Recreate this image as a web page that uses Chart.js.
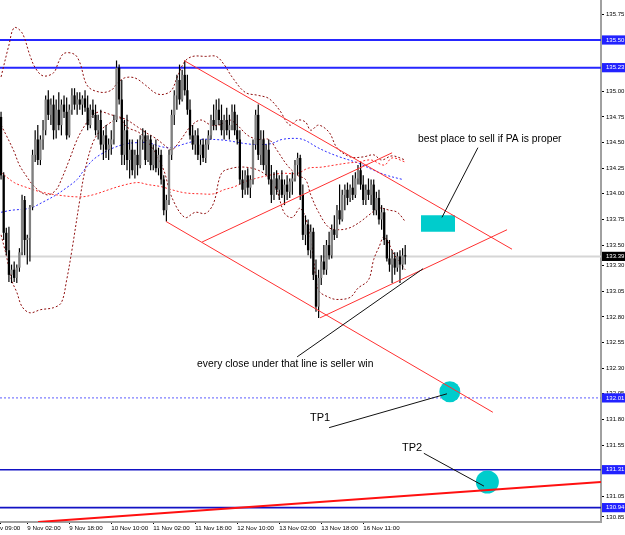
<!DOCTYPE html>
<html>
<head>
<meta charset="utf-8">
<style>
  html, body { margin: 0; padding: 0; background: #fff; }
  #wrap { width: 625px; height: 535px; }
</style>
<script src="https://cdn.jsdelivr.net/npm/chart.js@4.4.0/dist/chart.umd.min.js"></script>
</head>
<body>
<div id="wrap"><canvas id="myChart" width="625" height="535"></canvas></div>
<script>
// USDJPY-like H1 chart

// candles (bar index = position in the arrays)
const opens = [
  134.75,134.18,133.62,133.45,133.21,133.26,133.18,133.28,133.43,133.94,
  133.55,133.57,133.87,134.38,134.53,134.33,134.53,134.62,134.92,134.77,
  134.87,134.62,134.82,134.67,134.87,134.80,134.57,134.82,134.96,134.87,
  134.92,134.87,134.93,134.84,134.67,134.82,134.77,134.62,134.72,134.48,
  134.57,134.43,134.48,134.53,134.72,135.23,134.92,134.38,134.62,134.33,
  134.43,134.23,134.38,134.28,134.53,134.57,134.33,134.53,134.28,134.43,
  134.25,134.38,134.14,133.84,133.94,134.38,134.77,134.96,135.11,134.92,
  135.16,135.01,134.82,134.57,134.48,134.57,134.38,134.48,134.35,134.48,
  134.57,134.72,134.67,134.82,134.72,134.62,134.72,134.62,134.67,134.80,
  134.62,134.53,134.14,134.04,134.18,134.06,134.14,134.48,134.77,134.38,
  134.53,134.28,134.43,134.14,133.99,134.15,134.04,134.14,133.99,134.09,
  134.02,134.12,134.15,134.28,134.35,133.99,133.60,133.70,133.45,133.63,
  133.21,132.90,133.18,133.34,133.26,133.50,133.40,133.65,133.60,133.84,
  133.75,133.99,134.04,133.96,134.06,133.99,134.15,134.23,134.09,133.94,
  134.04,133.99,134.09,133.84,133.96,133.75,133.82,133.55,133.37,133.31,
  133.37,133.28,133.39,133.31,133.40
];
const highs = [
  134.80,134.21,133.67,133.68,133.31,133.34,133.31,133.47,133.99,133.98,
  133.60,133.89,134.43,134.62,134.67,134.57,134.72,134.96,135.01,134.93,
  134.96,134.92,134.99,134.92,134.96,134.94,134.87,135.03,135.03,134.99,
  134.99,134.96,135.01,134.96,134.87,134.92,134.87,134.77,134.82,134.62,
  134.67,134.54,134.62,134.77,135.30,135.26,135.11,134.72,134.77,134.53,
  134.53,134.43,134.53,134.57,134.64,134.62,134.57,134.57,134.48,134.53,
  134.45,134.43,134.18,133.99,134.43,134.82,135.01,135.16,135.26,135.21,
  135.30,135.16,134.92,134.67,134.62,134.64,134.53,134.54,134.53,134.62,
  134.77,134.87,134.92,134.93,134.87,134.77,134.84,134.77,134.87,134.87,
  134.77,134.62,134.23,134.23,134.25,134.18,134.53,134.82,134.87,134.62,
  134.62,134.48,134.53,134.28,134.21,134.23,134.18,134.23,134.14,134.18,
  134.15,134.21,134.33,134.40,134.38,134.09,133.79,133.75,133.70,133.67,
  133.36,133.26,133.40,133.50,133.55,133.63,133.70,133.79,133.89,134.09,
  134.04,134.09,134.11,134.09,134.18,134.21,134.28,134.31,134.18,134.09,
  134.15,134.14,134.14,134.02,134.04,133.89,133.86,133.60,133.55,133.45,
  133.43,133.43,133.45,133.47,133.50
];
const lows = [
  134.14,133.55,133.40,133.14,133.13,133.14,133.13,133.24,133.40,133.40,
  133.31,133.34,133.84,134.31,134.28,134.28,134.43,134.57,134.72,134.67,
  134.53,134.54,134.62,134.57,134.74,134.53,134.55,134.77,134.82,134.77,
  134.82,134.77,134.80,134.62,134.64,134.74,134.57,134.53,134.43,134.33,
  134.35,134.33,134.38,134.48,134.70,134.87,134.28,134.28,134.23,134.15,
  134.18,134.15,134.18,134.25,134.43,134.28,134.31,134.23,134.23,134.21,
  134.18,134.09,133.79,133.73,133.89,134.33,134.67,134.82,134.87,134.90,
  134.96,134.77,134.53,134.43,134.38,134.33,134.28,134.31,134.30,134.43,
  134.53,134.62,134.62,134.67,134.57,134.53,134.57,134.53,134.62,134.57,
  134.48,134.09,133.96,133.99,133.99,133.96,134.09,134.43,134.33,134.28,
  134.23,134.18,134.09,133.91,133.94,133.99,133.94,133.96,133.89,133.94,
  133.96,133.99,134.12,134.18,133.94,133.55,133.50,133.40,133.37,133.16,
  132.85,132.79,133.11,133.21,133.21,133.36,133.37,133.55,133.57,133.70,
  133.73,133.84,133.89,133.92,133.94,133.96,134.09,134.04,133.89,133.89,
  133.94,133.89,133.79,133.79,133.70,133.65,133.50,133.34,133.24,133.13,
  133.21,133.24,133.13,133.26,133.31
];
const closes = [
  134.18,133.62,133.45,133.21,133.26,133.18,133.28,133.43,133.94,133.55,
  133.57,133.87,134.38,134.53,134.33,134.53,134.62,134.92,134.77,134.87,
  134.62,134.82,134.67,134.87,134.80,134.57,134.82,134.96,134.87,134.92,
  134.87,134.93,134.84,134.67,134.82,134.77,134.62,134.72,134.48,134.57,
  134.43,134.48,134.53,134.72,135.23,134.92,134.38,134.62,134.33,134.43,
  134.23,134.38,134.28,134.53,134.57,134.33,134.53,134.28,134.43,134.25,
  134.38,134.14,133.84,133.94,134.38,134.77,134.96,135.11,134.92,135.16,
  135.01,134.82,134.57,134.48,134.57,134.38,134.48,134.35,134.48,134.57,
  134.72,134.67,134.82,134.72,134.62,134.72,134.62,134.67,134.80,134.62,
  134.53,134.14,134.04,134.18,134.06,134.14,134.48,134.77,134.38,134.53,
  134.28,134.43,134.14,133.99,134.15,134.04,134.14,133.99,134.09,134.02,
  134.12,134.15,134.28,134.35,133.99,133.60,133.70,133.45,133.63,133.21,
  132.90,133.18,133.34,133.26,133.50,133.40,133.65,133.60,133.84,133.75,
  133.99,134.04,133.96,134.06,133.99,134.15,134.23,134.09,133.94,134.04,
  133.99,134.09,133.84,133.96,133.75,133.82,133.55,133.37,133.31,133.37,
  133.28,133.39,133.31,133.40,133.39
];

// bollinger bands (maroon dotted), sampled at bar indexes
const upperBars = [0,3,5,8,11,13,16,20,22,24,28,30,33,38,42,44,47,51,55,59,62,65,67,70,73,78,82,85,88,93,98,102,106,110,113,116,118,121,125,128,133,138,142,145,149,154];
const upperBand = [135.14,135.45,135.62,135.57,135.35,135.23,135.15,135.18,135.29,135.37,135.36,135.28,135.05,134.99,135.01,135.07,135.13,135.13,135.06,134.98,134.97,135.01,135.13,135.29,135.34,135.34,135.34,135.26,135.14,134.99,134.96,134.93,134.82,134.67,134.72,134.70,134.62,134.67,134.60,134.45,134.36,134.36,134.38,134.33,134.37,134.33];
const midBars = [0,2,5,7,10,12,15,18,21,23,26,29,32,35,38,42,45,48,51,55,59,62,65,68,72,76,80,83,87,90,94,98,102,105,109,113,116,118,121,125,129,133,137,140,144,148,151,154];
const midBand = [134.67,134.57,134.41,134.28,134.16,134.09,134.02,133.99,134.04,134.14,134.33,134.53,134.67,134.77,134.80,134.77,134.75,134.72,134.67,134.60,134.54,134.48,134.43,134.51,134.65,134.72,134.67,134.67,134.72,134.67,134.57,134.53,134.53,134.43,134.28,134.18,134.14,133.99,133.82,133.67,133.65,133.67,133.73,133.79,133.86,133.84,133.82,133.73];
const lowerBars = [0,2,4,6,8,11,15,20,23,25,27,30,32,35,38,42,45,48,53,58,62,65,70,74,78,81,84,88,93,98,102,105,108,111,114,117,119,121,125,128,133,136,140,142,144,146,150,154];
const lowerBand = [133.60,133.40,133.16,133.04,132.90,132.84,132.87,132.89,132.94,133.16,133.45,133.94,134.23,134.50,134.62,134.70,134.74,134.65,134.59,134.43,134.23,133.97,133.77,133.82,133.81,133.91,134.20,134.25,134.26,134.23,134.16,134.04,133.81,133.77,133.86,133.68,133.38,133.06,132.99,132.97,132.99,133.08,133.16,133.36,133.48,133.58,133.40,133.26];

// moving averages (red dotted, blue dotted)
const maRedBars = [0,5,10,15,21,30,35,41,46,52,56,61,65,70,76,81,85,89,93,97,102,107,113,117,122,127,132,136,141,146,149,154];
const maRed = [134.21,134.11,134.06,134.02,133.99,133.97,133.99,134.04,134.08,134.11,134.09,134.07,134.04,134.01,134.00,134.00,134.04,134.07,134.12,134.15,134.18,134.20,134.20,134.25,134.26,134.28,134.30,134.31,134.33,134.28,134.35,134.31];
const maBlueBars = [0,4,11,16,21,25,29,31,35,39,43,48,53,56,61,65,69,73,76,81,86,93,98,103,107,113,116,120,124,129,136,142,147,153];
const maBlue = [133.82,133.84,133.86,133.92,133.99,134.06,134.14,134.21,134.33,134.40,134.45,134.49,134.50,134.50,134.46,134.45,134.48,134.51,134.53,134.53,134.52,134.49,134.48,134.49,134.53,134.54,134.52,134.46,134.41,134.36,134.30,134.23,134.18,134.14];

// horizontal levels
const upperLevels = [135.50, 135.23];
const lowerLevels = [131.31, 130.94];
const tp1Level = 132.01;
const bidPrice = 133.39;

// trend lines [bar1, price1, bar2, price2]
const channelLines = [
  [69.7, 135.30, 194.7, 133.46],
  [62.9, 133.73, 187.4, 131.87],
  [76.6, 133.53, 149.0, 134.40],
  [121.5, 132.79, 192.8, 133.65]
];
const baseLine = [14.1, 130.80, 228.6, 131.19];
const pointerLines = [
  [181.7, 134.45, 168.0, 133.77],
  [112.8, 132.41, 160.8, 133.27],
  [125.0, 131.72, 169.9, 132.05],
  [161.1, 131.47, 184.0, 131.15]
];

// sell zone and targets
const zoneBars = [160, 173];
const zonePrices = [133.63, 133.79];
const targetBars = [171, 185.3];
const targetPrices = [132.07, 131.19];

// notes
const noteTexts = ['best place to sell if PA is proper', 'every close under that line is seller win', 'TP1', 'TP2'];
const noteBars = [158.9, 74.7, 117.7, 152.8];
const notePrices = [134.535, 132.34, 131.81, 131.52];

// axes
const timeTicks = [-0.4, 10, 26, 42, 58, 74, 90, 106, 122, 138];
const timeLabels = ['v 09:00', '9 Nov 02:00', '9 Nov 18:00', '10 Nov 10:00', '11 Nov 02:00', '11 Nov 18:00', '12 Nov 10:00', '13 Nov 02:00', '13 Nov 18:00', '16 Nov 11:00'];
const priceTicks = [135.75,135.50,135.25,135.00,134.75,134.50,134.25,134.00,133.75,133.50,133.30,133.05,132.80,132.55,132.30,132.05,131.80,131.55,131.30,131.05,130.85];
const boxPrices = [135.50, 135.23, 133.39, 132.01, 131.31, 130.94];

const xMin = -0.4, xMax = 228.6;
const yMin = 130.80, yMax = 135.89;

Chart.defaults.font.family = '"Liberation Sans", Arial, sans-serif';

const pts = (xs, ys) => xs.map((x, i) => ({ x: x, y: ys[i] }));
const idx = opens.map((o, i) => i);

function hline(price, color, width, dash) {
  return {
    type: 'line', data: [{ x: xMin, y: price }, { x: xMax, y: price }],
    borderColor: color, borderWidth: width, borderDash: dash || [],
    pointRadius: 0, order: 100
  };
}
function dotted(xs, ys, color) {
  return {
    type: 'line', data: pts(xs, ys), borderColor: color, borderWidth: 1,
    borderDash: [2, 2], pointRadius: 0, tension: 0.35, order: 90
  };
}
function seg(l, color, width, order) {
  return {
    type: 'line', data: [{ x: l[0], y: l[1] }, { x: l[2], y: l[3] }],
    borderColor: color, borderWidth: width, pointRadius: 0, order: order
  };
}

const datasets = [
  hline(upperLevels[0], '#2626ff', 2),
  hline(upperLevels[1], '#2626ff', 2),
  hline(lowerLevels[0], '#1212c4', 1.6),
  hline(lowerLevels[1], '#1212c4', 1.6),
  hline(tp1Level, '#5c5cff', 1, [2, 2]),
  hline(bidPrice, '#d6d6d6', 2),
  dotted(upperBars, upperBand, '#8e0c0c'),
  dotted(midBars, midBand, '#8e0c0c'),
  dotted(lowerBars, lowerBand, '#8e0c0c'),
  dotted(maRedBars, maRed, '#ff2a2a'),
  dotted(maBlueBars, maBlue, '#2a2aff'),
  {
    type: 'bar', data: idx.map(i => ({ x: i, y: [lows[i], highs[i]] })),
    backgroundColor: '#000', barThickness: 1.2, grouped: false, inflateAmount: 0, order: 80
  },
  {
    type: 'bar', data: idx.map(i => ({ x: i, y: [opens[i], closes[i]] })),
    backgroundColor: c => closes[c.dataIndex] >= opens[c.dataIndex] ? '#808080' : '#000',
    barThickness: 2.3, minBarLength: 1, grouped: false, inflateAmount: 0, order: 79
  },
  {
    type: 'line', data: pts(zoneBars, [zonePrices[1], zonePrices[1]]),
    borderWidth: 0, pointRadius: 0, order: 70
  },
  {
    type: 'line', data: pts(zoneBars, [zonePrices[0], zonePrices[0]]),
    borderWidth: 0, pointRadius: 0, fill: '-1', backgroundColor: '#00cccc', order: 70
  },
  {
    type: 'scatter', data: [{ x: targetBars[0], y: targetPrices[0] }],
    pointRadius: 10.5, pointBackgroundColor: '#00cccc', pointBorderWidth: 0, order: 70
  },
  {
    type: 'scatter', data: [{ x: targetBars[1], y: targetPrices[1] }],
    pointRadius: 11.5, pointBackgroundColor: '#00cccc', pointBorderWidth: 0, order: 70
  },
  seg(baseLine, '#ff1010', 2, 65)
].concat(
  channelLines.map(l => seg(l, '#ff3030', 1, 60)),
  pointerLines.map(l => seg(l, '#111', 1, 50))
);

const notesPlugin = {
  id: 'notes',
  afterDatasetsDraw(chart) {
    const { ctx, scales } = chart;
    ctx.save();
    ctx.fillStyle = '#000';
    ctx.textBaseline = 'middle';
    noteTexts.forEach((t, i) => {
      ctx.font = (t.length < 4 ? '11px' : '10.3px') + ' "Liberation Sans", Arial, sans-serif';
      ctx.fillText(t, scales.x.getPixelForValue(noteBars[i]), scales.y.getPixelForValue(notePrices[i]));
    });
    ctx.restore();
  }
};

const isBox = c => c.index >= priceTicks.length;

new Chart(document.getElementById('myChart'), {
  type: 'bar',
  data: { datasets: datasets },
  options: {
    responsive: false,
    animation: false,
    events: [],
    layout: { padding: 0, autoPadding: false },
    plugins: { legend: { display: false }, tooltip: { enabled: false } },
    scales: {
      x: {
        type: 'linear', min: xMin, max: xMax, offset: false,
        grid: { display: true, drawOnChartArea: false, offset: false, tickLength: 2, tickColor: '#000' },
        border: { display: true, color: '#a0a0a0', width: 2 },
        ticks: {
          autoSkip: false, maxRotation: 0, align: 'start', padding: 1,
          font: { size: 6.2 }, color: '#000',
          callback: (v, i) => timeLabels[i]
        },
        afterBuildTicks: s => { s.ticks = timeTicks.map(v => ({ value: v })); },
        afterFit: s => { s.height = 13; s.paddingLeft = 0; s.paddingRight = 0; }
      },
      y: {
        type: 'linear', position: 'right', min: yMin, max: yMax, beginAtZero: false,
        grid: {
          display: true, drawOnChartArea: false, tickLength: 3,
          tickColor: c => isBox(c) ? 'rgba(0,0,0,0)' : '#000'
        },
        border: { display: true, color: '#a0a0a0', width: 2 },
        ticks: {
          autoSkip: false, padding: 2,
          font: { size: 6 },
          color: c => isBox(c) ? '#fff' : '#000',
          showLabelBackdrop: true,
          backdropColor: c => !isBox(c) ? 'rgba(0,0,0,0)' : (c.tick.value === bidPrice ? '#000' : '#2222ff'),
          backdropPadding: { left: 4, right: 2, top: 1, bottom: 1 },
          callback: v => v.toFixed(2)
        },
        afterBuildTicks: s => { s.ticks = priceTicks.concat(boxPrices).map(v => ({ value: v })); },
        afterFit: s => { s.width = 24; s.paddingTop = 0; s.paddingBottom = 0; }
      }
    }
  },
  plugins: [notesPlugin]
});
</script>
</body>
</html>
